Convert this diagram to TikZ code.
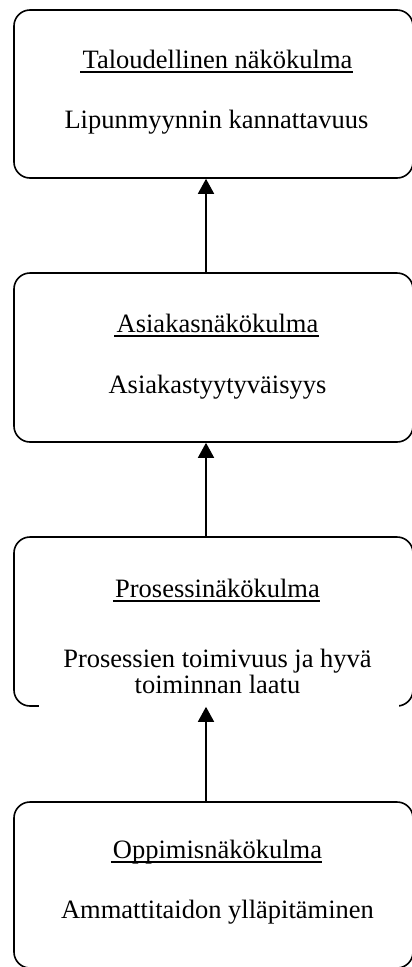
\documentclass[tikz,border=0pt]{standalone}
\usepackage{fontspec}
\setmainfont{Liberation Serif}
\usetikzlibrary{arrows.meta}

\begin{document}
\begin{tikzpicture}[x=1pt, y=-1pt,
        viewbox/.style={draw, line width=1.6pt, rounded corners=16pt, minimum width=399pt},
        headline/.style={anchor=base, inner sep=0pt, font=\fontsize{26.5}{26}\selectfont},
        bodyline/.style={anchor=base, inner sep=0pt, align=center, font=\fontsize{26.5}{26}\selectfont},
        upflow/.style={line width=1.6pt, -{Triangle[width=16pt, length=15pt]}}]

        \useasboundingbox (0,0) rectangle (412,967);

        % --- BOX 1 (Taloudellinen) ---
        \node[viewbox, minimum height=168pt] (fin) at (213.5, 94) {};
        \node[headline] (finhead) at (217.5, 68) {Taloudellinen näkökulma};
        \node[bodyline] (finbody) at (216.5, 128) {Lipunmyynnin kannattavuus};

        % --- BOX 2 (Asiakas) ---
        \node[viewbox, minimum height=169pt] (cust) at (213.5, 357.5) {};
        \node[headline] (custhead) at (217.5, 332) {Asiakasnäkökulma};
        \node[bodyline] (custbody) at (217.5, 393) {Asiakastyytyväisyys};

        % --- BOX 3 (Prosessi) ---
        \node[viewbox, minimum height=169pt] (proc) at (213.5, 621.5) {};
        \fill[white] ([xshift=26pt, yshift=-3pt]proc.south west) rectangle ([xshift=-15pt, yshift=3pt]proc.south east);
        \node[headline] (prochead) at (217.5, 597) {Prosessinäkökulma};
        \node[bodyline] (procbody) at (217.5, 693) {Prosessien toimivuus ja hyvä\\toiminnan laatu};

        % --- BOX 4 (Oppiminen) ---
        \node[viewbox, minimum height=166pt] (learn) at (213.5, 885) {};
        \node[headline] (learnhead) at (217.5, 858) {Oppimisnäkökulma};
        \node[bodyline] (learnbody) at (217.5, 918) {Ammattitaidon ylläpitäminen};

        % Underlines
        \foreach \h in {finhead, custhead, prochead, learnhead}
            \draw[line width=1.3pt] ([xshift=-2pt, yshift=-4pt]\h.base west) -- ([yshift=-4pt]\h.base east);

        % Arrows
        \draw[upflow] ([xshift=-7.5pt]cust.north) -- ([xshift=-7.5pt]fin.south);
        \draw[upflow] ([xshift=-7.5pt]proc.north) -- ([xshift=-7.5pt]cust.south);
        \draw[upflow] ([xshift=-7.5pt]learn.north) -- ([xshift=-7.5pt]proc.south);

    \end{tikzpicture}
\end{document}
